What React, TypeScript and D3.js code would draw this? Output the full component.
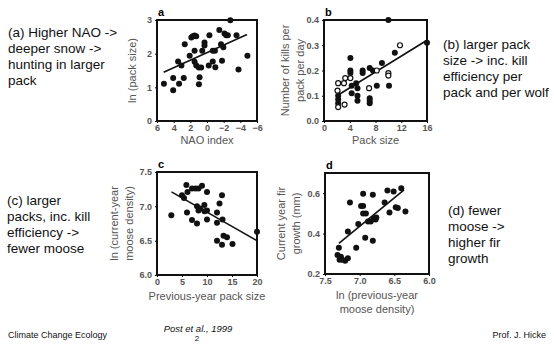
import React, { useRef, useEffect } from "react";
import * as d3 from "d3";

// panel a: NAO index vs ln(pack size)
const naoIndex = [5.17, 4.06, 4.06, 3.35, 2.79, 3.47, 3.07, 2.67, 1.88, 1.7, 1.5, 1.3, 2.08, 1.49, 1.49, 1.29, 0.98, 0.7, 0.89, 0.97, 0.57, 0.3, 0.3, -0.29, -0.21, -0.69, -0.7, -0.95, -1.0, -1.48, -1.68, -1.96, -1.8, -2.1, -2.3, -2.5, -2.8, -3.54, -3.78, -4.85];
const lnPackSize = [1.11, 1.28, 0.91, 1.11, 1.28, 1.77, 1.65, 2.28, 2.48, 2.52, 2.54, 2.52, 1.94, 2.09, 1.76, 1.65, 1.59, 1.59, 1.3, 1.09, 2.09, 2.24, 2.33, 2.55, 1.65, 1.77, 2.09, 2.09, 1.6, 2.7, 2.28, 2.19, 1.79, 2.6, 2.55, 2.55, 2.99, 2.55, 1.53, 1.94];
const fitA = [[5.2, 1.45], [-4.8, 2.57]];

// panel b: pack size vs kills per pack per day (filled and open symbols)
const packSizeFilled = [10, 11, 4.1, 4.1, 4.1, 6.0, 6.0, 7.1, 7.6, 9.0, 5.0, 5.2, 4.3, 4.3, 5.2, 5.2, 7.1, 7.1, 7.1, 8.2, 10.1, 2.2, 2.2, 2.2, 16];
const killsFilled = [0.4, 0.27, 0.25, 0.2, 0.19, 0.2, 0.19, 0.21, 0.2, 0.23, 0.15, 0.13, 0.14, 0.11, 0.1, 0.08, 0.09, 0.08, 0.07, 0.14, 0.14, 0.1, 0.085, 0.07, 0.31];
const packSizeOpen = [11.8, 2.2, 3.3, 3.1, 4.1, 2.2, 3.2, 7.0, 10, 10, 8.2, 2.1];
const killsOpen = [0.3, 0.15, 0.17, 0.15, 0.17, 0.055, 0.065, 0.13, 0.19, 0.18, 0.2, 0.12];
const fitB = [[2, 0.1], [16, 0.32]];

// panel c: previous-year pack size vs ln(current-year moose density)
const prevPackSize = [2.86, 5.0, 5.4, 5.87, 6.1, 6.0, 7.0, 7.7, 8.3, 9.0, 7.0, 8.0, 8.0, 8.3, 8.6, 9.47, 9.5, 10, 10, 10, 12, 12.5, 13, 12, 13.1, 12, 13, 13.3, 14, 15.1, 20];
const lnMoose = [6.87, 7.16, 7.12, 7.31, 7.21, 6.91, 7.26, 7.26, 7.26, 7.3, 6.8, 6.75, 7.0, 6.94, 6.97, 7.02, 6.93, 6.94, 7.21, 6.81, 6.91, 7.04, 7.16, 6.76, 6.81, 6.5, 6.44, 6.57, 6.55, 6.45, 6.63];
const fitC = [[2.9, 7.21], [20, 6.5]];

// panel d: ln(previous-year moose density) vs current year fir growth
const lnPrevMoose = [7.32, 7.3, 7.29, 7.25, 7.21, 7.17, 7.27, 7.17, 7.14, 7.05, 7.02, 6.98, 6.95, 6.95, 6.95, 6.91, 6.92, 6.88, 6.84, 6.81, 6.81, 6.8, 6.77, 6.76, 6.64, 6.6, 6.57, 6.51, 6.48, 6.45, 6.4, 6.34];
const firGrowth = [0.294, 0.33, 0.27, 0.27, 0.266, 0.278, 0.285, 0.41, 0.554, 0.33, 0.447, 0.537, 0.537, 0.597, 0.5, 0.5, 0.38, 0.46, 0.46, 0.592, 0.365, 0.475, 0.47, 0.48, 0.554, 0.613, 0.504, 0.608, 0.53, 0.527, 0.625, 0.51];
const fitD = [[7.3, 0.352], [6.36, 0.617]];

const noteA = ["(a)  Higher NAO ->", "deeper snow ->", "hunting in larger", "pack"];
const noteB = ["(b) larger pack", "size -> inc. kill", "efficiency per", "pack and per wolf"];
const noteC = ["(c) larger", "packs, inc. kill", "efficiency  ->", "fewer moose"];
const noteD = ["(d) fewer", "moose ->", "higher fir", "growth"];

const FONT = "'Liberation Sans', Arial, sans-serif";

const App = () => {
    const svgRef = useRef(null);

    useEffect(() => {
        const svg = d3.select(svgRef.current);
        svg.selectAll("*").remove();

        function panel(cfg) {
            const x = d3.scaleLinear().domain(cfg.xd).range(cfg.xr);
            const y = d3.scaleLinear().domain(cfg.yd).range(cfg.yr);
            const g = svg.append("g");

            const xAxis = g.append("g")
                .attr("transform", `translate(0, ${cfg.yr[0]})`)
                .call(d3.axisBottom(x).tickValues(cfg.xt).tickSize(2).tickPadding(2).tickFormat(cfg.xf));
            const yAxis = g.append("g")
                .attr("transform", `translate(${cfg.xr[0]}, 0)`)
                .call(d3.axisLeft(y).tickValues(cfg.yt).tickSize(2).tickPadding(3).tickFormat(cfg.yf));
            [xAxis, yAxis].forEach(a => {
                a.select(".domain").remove();
                a.selectAll("text")
                    .style("font-family", FONT)
                    .style("font-size", "9px")
                    .style("font-weight", "bold")
                    .attr("fill", "#555");
            });

            g.append("rect")
                .attr("x", cfg.xr[0]).attr("y", cfg.yr[1])
                .attr("width", cfg.xr[1] - cfg.xr[0])
                .attr("height", cfg.yr[0] - cfg.yr[1])
                .attr("fill", "none").attr("stroke", "#111").attr("stroke-width", 2);

            g.append("line")
                .attr("x1", x(cfg.fit[0][0])).attr("y1", y(cfg.fit[0][1]))
                .attr("x2", x(cfg.fit[1][0])).attr("y2", y(cfg.fit[1][1]))
                .attr("stroke", "#111").attr("stroke-width", 1.6);

            g.selectAll("circle.f")
                .data(d3.zip(cfg.xs, cfg.ys))
                .enter().append("circle")
                .attr("class", "f")
                .attr("cx", d => x(d[0])).attr("cy", d => y(d[1]))
                .attr("r", 3).attr("fill", "#111");

            if (cfg.xo) {
                g.selectAll("circle.o")
                    .data(d3.zip(cfg.xo, cfg.yo))
                    .enter().append("circle")
                    .attr("class", "o")
                    .attr("cx", d => x(d[0])).attr("cy", d => y(d[1]))
                    .attr("r", 2.5).attr("fill", "#fff")
                    .attr("stroke", "#111").attr("stroke-width", 1.2);
            }

            g.append("text")
                .attr("x", cfg.xr[0] + 1).attr("y", cfg.yr[1] - 4)
                .style("font-family", FONT).style("font-size", "11px").style("font-weight", "bold")
                .text(cfg.letter);

            const mx = (cfg.xr[0] + cfg.xr[1]) / 2 + (cfg.xlDx || 0);
            g.append("text")
                .attr("y", cfg.yr[0] + cfg.xlDy)
                .attr("text-anchor", "middle")
                .style("font-family", FONT).style("font-size", "11px").attr("fill", "#555")
                .selectAll("tspan").data(cfg.xl).enter().append("tspan")
                .attr("x", mx)
                .attr("dy", (d, i) => i === 0 ? 0 : 14)
                .text(d => d);

            const cy = (cfg.yr[0] + cfg.yr[1]) / 2;
            const yl = g.append("text")
                .attr("transform", `translate(${cfg.ylX}, ${cy}) rotate(-90)`)
                .attr("text-anchor", "middle")
                .style("font-family", FONT).style("font-size", "11px").attr("fill", "#555");
            yl.selectAll("tspan").data(cfg.yl).enter().append("tspan")
                .attr("x", 0)
                .attr("dy", (d, i) => i === 0 ? 0 : 15)
                .text(d => d);
        }

        panel({
            xd: [6, -6], xr: [157, 257], yd: [0, 3], yr: [121, 20],
            xt: [6, 4, 2, 0, -2, -4, -6], yt: [0, 1, 2, 3],
            xf: d3.format("d"), yf: d3.format("d"),
            xs: naoIndex, ys: lnPackSize, fit: fitA,
            letter: "a", xl: ["NAO index"], xlDy: 23, yl: ["ln (pack size)"], ylX: 136
        });
        panel({
            xd: [0, 16], xr: [324, 427], yd: [0, 0.4], yr: [121, 20],
            xt: [0, 4, 8, 12, 16], yt: [0, 0.1, 0.2, 0.3, 0.4],
            xf: d3.format("d"), yf: d3.format(".1f"),
            xs: packSizeFilled, ys: killsFilled, xo: packSizeOpen, yo: killsOpen, fit: fitB,
            letter: "b", xl: ["Pack size"], xlDy: 23, yl: ["Number of kills per", "pack per day"], ylX: 289
        });
        panel({
            xd: [0, 20], xr: [157, 257], yd: [6, 7.5], yr: [275, 172],
            xt: [0, 5, 10, 15, 20], yt: [6, 6.5, 7, 7.5],
            xf: d3.format("d"), yf: d3.format(".1f"),
            xs: prevPackSize, ys: lnMoose, fit: fitC,
            letter: "c", xl: ["Previous-year pack size"], xlDy: 25, yl: ["ln (current-year", "moose density)"], ylX: 118
        });
        panel({
            xd: [7.5, 6.0], xr: [325, 429], yd: [0.2, 0.7], yr: [274, 173],
            xt: [7.5, 7.0, 6.5, 6.0], yt: [0.2, 0.4, 0.6],
            xf: d3.format(".1f"), yf: d3.format(".1f"),
            xs: lnPrevMoose, ys: firGrowth, fit: fitD,
            letter: "d", xl: ["ln (previous-year", "moose density)"], xlDy: 25, yl: ["Current year fir", "growth (mm)"], ylX: 285
        });

        const notes = [
            { lines: noteA, x: 8, y: 37 },
            { lines: noteB, x: 443, y: 49 },
            { lines: noteC, x: 7, y: 205 },
            { lines: noteD, x: 448, y: 215 }
        ];
        notes.forEach(n => {
            svg.append("text")
                .style("font-family", FONT).style("font-size", "13.5px").attr("fill", "#111")
                .selectAll("tspan").data(n.lines).enter().append("tspan")
                .attr("x", n.x).attr("y", (d, i) => n.y + i * 16)
                .text(d => d);
        });

        const foot = svg.append("g").style("font-family", FONT).attr("fill", "#111");
        foot.append("text").attr("x", 8).attr("y", 338).style("font-size", "9px").text("Climate Change Ecology");
        foot.append("text").attr("x", 198).attr("y", 332).attr("text-anchor", "middle")
            .style("font-size", "9.5px").style("font-style", "italic").text("Post et al., 1999");
        foot.append("text").attr("x", 197).attr("y", 341).attr("text-anchor", "middle")
            .style("font-size", "8px").text("2");
        foot.append("text").attr("x", 546).attr("y", 338).attr("text-anchor", "end")
            .style("font-size", "9px").text("Prof. J. Hicke");
    }, []);

    return (
        <svg ref={svgRef} width={554} height={345}
            style={{ position: "absolute", left: 0, top: 0, background: "#fff" }} />
    );
};

export default App;
